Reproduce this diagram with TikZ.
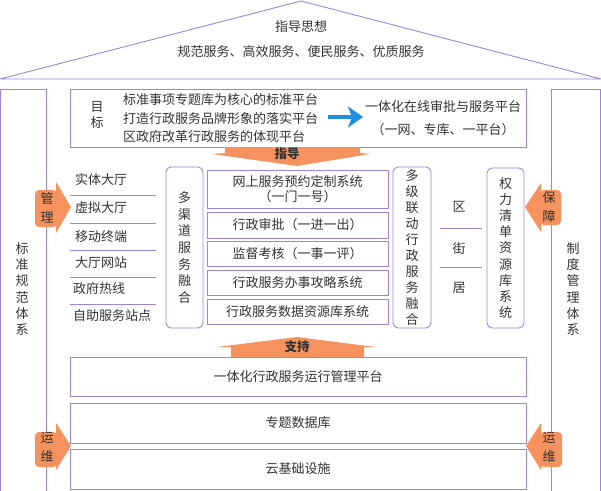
\documentclass[tikz,border=0pt]{standalone}
\usepackage{fontspec}
\setmainfont{Noto Sans CJK SC}
\usetikzlibrary{arrows.meta}
\definecolor{pline}{HTML}{9B84DA}
\definecolor{orng}{HTML}{F5925E}
\definecolor{txt}{HTML}{333333}
\definecolor{barrow}{HTML}{1E8FE1}
\begin{document}
\begin{tikzpicture}[x=1pt,y=-1pt,
  every node/.style={text=txt, font=\fontsize{13pt}{15.5pt}\selectfont, inner sep=0pt, outer sep=0pt},
  pl/.style={draw=pline, line width=0.9pt},
  box/.style={pl, fill=white},
  rbox/.style={box, rounded corners=5pt},
  vt/.style={align=center, font=\fontsize{13pt}{#1}\selectfont},
  vt/.default=16.3pt,
  bold/.style={font=\fontsize{12.5pt}{14pt}\selectfont\bfseries}]
\useasboundingbox (0,0) rectangle (601,490);

% roof
\draw[pl] (0,79) -- (301,1) -- (601,79) -- cycle;
\node (t1) at (301,27) {指导思想};
\node (t2) at (301,52) {规范服务、高效服务、便民服务、优质服务};

% side columns
\node[box, minimum width=45.5pt, minimum height=402pt] (lcol) at (23.25,290) {};
\node[vt] (lcolt) at (22,289) {标\\准\\规\\范\\体\\系};
\node[box, minimum width=49.5pt, minimum height=402pt] (rcol) at (575.75,290) {};
\node[vt] (rcolt) at (573,289) {制\\度\\管\\理\\体\\系};

% goal box
\node[box, minimum width=456pt, minimum height=58pt] (goal) at (298,118) {};
\node[vt=16pt] (mb) at (97,115) {目\\标};
\node[anchor=west, align=left, font=\fontsize{13pt}{18.5pt}\selectfont] (gl) at (123,118.5)
  {标准事项专题库为核心的标准平台\\打造行政服务品牌形象的落实平台\\区政府改革行政服务的体现平台};
\node (rt1) at (443,107) {一体化在线审批与服务平台};
\node (rt2) at (443,130) {（一网、专库、一平台）};
\coordinate (ba1) at (328,117);
\coordinate (ba2) at (363,117);
\draw[barrow, line width=4pt, -{Stealth[length=15pt,width=21pt,inset=4pt]}] (ba1) -- (ba2);

% guide arrow
\fill[orng] (225,147) -- (360,147) -- (360,153) -- (370,154) -- (297,166) -- (212,154) -- (225,153) -- cycle;
\node[bold] (zd) at (287,153.5) {指导};

% channel list
\foreach \yy in {195,223,250,277,304} \draw[pl] (70,\yy) -- (156,\yy);
\node[anchor=west] (c1) at (75,179) {实体大厅};
\node[anchor=west] (c2) at (75,208) {虚拟大厅};
\node[anchor=west] (c3) at (75,237) {移动终端};
\node[anchor=west] (c4) at (75,263) {大厅网站};
\node[anchor=west] (c5) at (73,289) {政府热线};
\node[anchor=west] (c6) at (73,316) {自助服务站点};

% rounded boxes
\node[rbox, minimum width=37pt, minimum height=161pt, vt=16.7pt] (dqd) at (184.5,247.5) {多\\渠\\道\\服\\务\\融\\合};
\node[rbox, minimum width=38pt, minimum height=161pt, vt=15.9pt] (djld) at (412,247.5) {多\\级\\联\\动\\行\\政\\服\\务\\融\\合};
\node[rbox, minimum width=37pt, minimum height=160pt, vt=16.1pt] (qlqd) at (505.5,248) {权\\力\\清\\单\\资\\源\\库\\系\\统};

% middle boxes
\node[box, minimum width=181pt, minimum height=38pt, align=center, font=\fontsize{13pt}{15pt}\selectfont] (m1) at (297.5,189) {网上服务预约定制系统\\（一门一号）};
\node[box, minimum width=181pt, minimum height=26pt] (m2) at (297.5,225) {行政审批（一进一出）};
\node[box, minimum width=181pt, minimum height=25pt] (m3) at (297.5,253.5) {监督考核（一事一评）};
\node[box, minimum width=181pt, minimum height=25pt] (m4) at (297.5,282.5) {行政服务办事攻略系统};
\node[box, minimum width=181pt, minimum height=25pt] (m5) at (297.5,311.5) {行政服务数据资源库系统};

% district levels
\draw[pl] (440,228) -- (482,228);
\draw[pl] (440,267) -- (482,267);
\node (q1) at (459,207) {区};
\node (q2) at (459,249) {街};
\node (q3) at (459,288) {居};

% bottom platform
\node[box, minimum width=456pt, minimum height=39pt] (plat) at (298,376.5) {一体化行政服务运行管理平台};
\node[box, minimum width=456pt, minimum height=40pt] (db) at (298,423) {专题数据库};
\node[box, minimum width=456pt, minimum height=40pt] (cloud) at (298,469) {云基础设施};

% support arrow
\fill[orng] (297,337) -- (375,347) -- (364,347) -- (364,357) -- (231,357) -- (231,347) -- (217,347) -- cycle;
\node[bold] (zc) at (297,347) {支持};

% side arrows
\fill[orng, rounded corners=4pt] (57,190) -- (35,190) -- (35,227) -- (57,227) -- cycle;
\fill[orng] (56,182) -- (71,207) -- (56,233) -- cycle;
\node[vt=19pt] (gl2) at (47,207.5) {管\\理};

\fill[orng, rounded corners=4pt] (540,190) -- (561,190) -- (561,225) -- (540,225) -- cycle;
\fill[orng] (541,183) -- (525,207) -- (541,232) -- cycle;
\node[vt=19pt] (bz) at (549,207.5) {保\\障};

\fill[orng, rounded corners=4pt] (57,432) -- (35,432) -- (35,467) -- (57,467) -- cycle;
\fill[orng] (56,423) -- (71,446) -- (56,470) -- cycle;
\node[vt=19pt] (yw1) at (47,447.5) {运\\维};

\fill[orng, rounded corners=4pt] (540,432) -- (562,432) -- (562,467) -- (540,467) -- cycle;
\fill[orng] (541,423) -- (526,446) -- (541,470) -- cycle;
\node[vt=19pt] (yw2) at (549,447.5) {运\\维};
\end{tikzpicture}
\end{document}
